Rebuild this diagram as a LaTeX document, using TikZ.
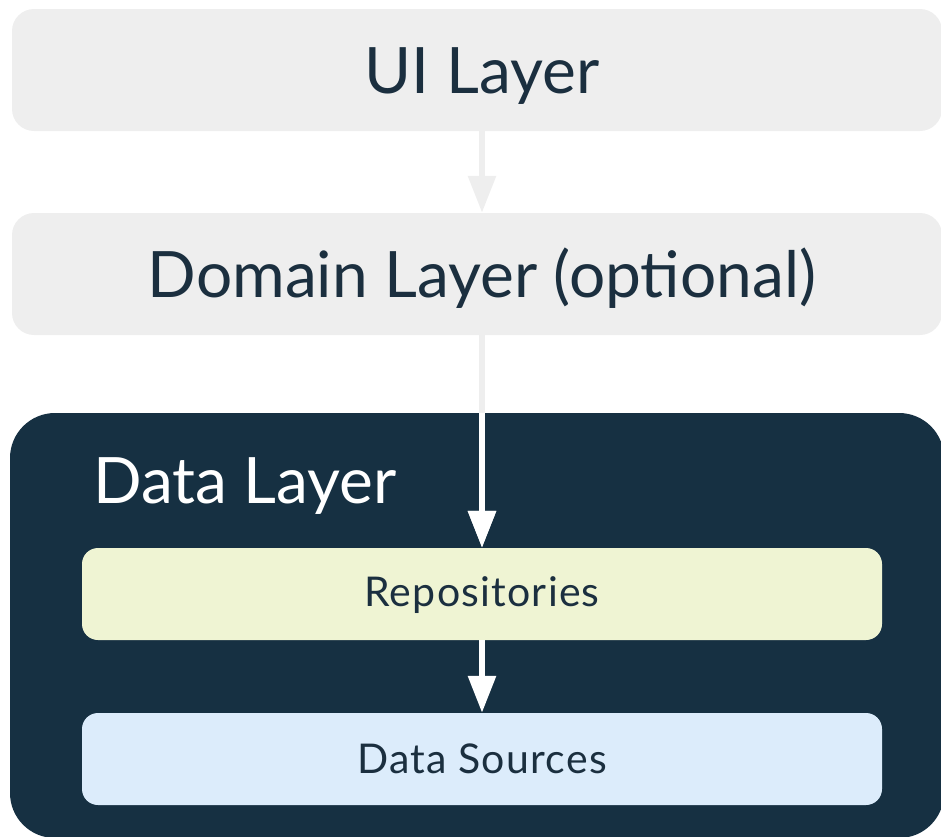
\documentclass[tikz,border=0pt]{standalone}
\usepackage{fontspec}
\setmainfont{Lato}
\usetikzlibrary{arrows.meta,positioning}
\definecolor{layergray}{HTML}{EEEEEE}
\definecolor{navy}{HTML}{163042}
\definecolor{inktext}{HTML}{1B2F3F}
\definecolor{repogreen}{HTML}{EFF4D3}
\definecolor{sourceblue}{HTML}{DCECFB}

\begin{document}
\begin{tikzpicture}[x=1pt,y=-1pt,>={Triangle[width=27pt,length=37pt]}]
	\def \uirow{70}
	\def \domainrow{274}
	\def \datarow{625.5}
	\def \reporow{594}
	\def \sourcerow{759}
	\tikzstyle{layer}=[rectangle,rounded corners=22pt,fill=layergray,minimum width=930pt,minimum height=122pt,inner sep=0pt]
	\tikzstyle{data-layer}=[rectangle,rounded corners=45pt,fill=navy,minimum width=934pt,minimum height=425pt,inner sep=0pt]
	\tikzstyle{inner-box}=[rectangle,rounded corners=16pt,minimum width=800pt,minimum height=92pt,inner sep=0pt]
	\tikzstyle{big-label}=[inner sep=0pt,text=inktext,font=\fontsize{64}{70}\selectfont]
	\tikzstyle{small-label}=[inner sep=0pt,text=inktext,font=\fontsize{41}{46}\selectfont\addfontfeatures{LetterSpace=3}]
	\tikzstyle{flow}=[->,line width=6pt]

	\useasboundingbox (0,0) rectangle (941,836);

	% layers
	\node[layer] 	(ui)	at (477,\uirow)		{};
	\node[layer] 	(domain)	at (477,\domainrow)		{};
	\node[data-layer] 	(data)	at (477,\datarow)		{};

	% data layer parts
	\node[inner-box,fill=repogreen] 	(repo)	at (482,\reporow)	{};
	\node[inner-box,fill=sourceblue] 	(sources)	at (482,\sourcerow)	{};

	% labels
	\node[big-label,anchor=base] 	(ui-text)	at (482,93)	{UI Layer};
	\node[big-label,anchor=base] 	(domain-text)	at (482,297)	{Domain Layer (optional)};
	\node[big-label,text=white,anchor=base west] 	(data-text)	at (93,503)	{Data Layer};
	\node[small-label,anchor=base] 	(repo-text)	at (482,606)	{Repositories};
	\node[small-label,anchor=base] 	(sources-text)	at (482,773)	{Data Sources};

	% arrows
	\draw[flow,draw=layergray,fill=layergray] (ui.south -| repo.north) -- (domain.north -| repo.north);
	\draw[flow,draw=layergray,fill=layergray] (domain.south -| repo.north) -- (repo.north);
	\begin{scope}
		\clip[rounded corners=45pt] (data.north west) rectangle (data.south east);
		\draw[flow,draw=white,fill=white] (domain.south -| repo.north) -- (repo.north);
	\end{scope}
	\draw[flow,draw=white,fill=white] (repo) -- (sources);
\end{tikzpicture}
\end{document}
